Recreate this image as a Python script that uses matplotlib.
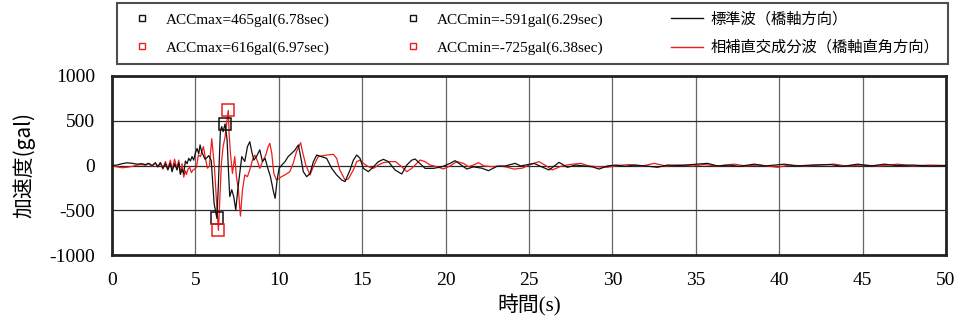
import matplotlib

matplotlib.use("Agg")
import matplotlib.pyplot as plt  # noqa: E402
from matplotlib.lines import Line2D  # noqa: E402

plt.rcParams["font.family"] = ["Liberation Serif", "Noto Sans CJK JP"]
plt.rcParams["axes.unicode_minus"] = False

# ---- data (time [s], acceleration [gal]) ----
t_std = [0.0, 0.3, 0.6, 0.9, 1.2, 1.5, 1.8, 2.0, 2.2, 2.4, 2.6, 2.75, 2.9, 3.05,
         3.2, 3.35, 3.5, 3.6, 3.75, 3.9, 4.0, 4.1, 4.2, 4.3, 4.4, 4.5, 4.6, 4.7,
         4.8, 4.9, 5.0, 5.1, 5.2, 5.28, 5.38, 5.48, 5.58, 5.7, 5.8, 5.95, 6.12,
         6.29, 6.38, 6.5, 6.58, 6.66, 6.78, 6.9, 6.98, 7.06, 7.18, 7.3, 7.42,
         7.54, 7.66, 7.78, 7.96, 8.12, 8.26, 8.38, 8.5, 8.66, 8.86, 9.02, 9.18,
         9.34, 9.5, 9.66, 9.78, 9.9, 10.02, 10.18, 10.36, 10.56, 10.76, 10.96,
         11.17, 11.3, 11.47, 11.67, 11.87, 12.07, 12.27, 12.57, 12.87, 13.17,
         13.47, 13.77, 13.97, 14.27, 14.47, 14.67, 14.87, 15.07, 15.37, 15.67,
         15.97, 16.27, 16.57, 16.97, 17.37, 17.67, 17.97, 18.17, 18.47, 18.77,
         19.27, 19.77, 20.27, 20.57, 20.97, 21.27, 21.67, 22.17, 22.57, 23.07,
         23.57, 24.17, 24.5, 24.9, 25.3, 25.7, 26.2, 26.8, 27.3, 27.8, 28.3,
         28.8, 29.2, 29.7, 30.2, 30.8, 31.3, 32.0, 32.7, 33.3, 34.0, 34.7, 35.7,
         36.3, 37.0, 37.6, 38.5, 39.2, 40.3, 41.0, 42.0, 43.1, 43.8, 44.7, 45.5,
         46.3, 47.0, 48.0, 49.0, 50.0]
a_std = [0, 5, 20, 30, 25, 15, 20, 10, 25, 0, 30, -15, 30, -30,
         20, -50, 25, -70, 20, -50, 35, -100, -40, -90, 50, 20, 80, 50,
         100, 60, 140, 190, 130, 230, 150, 110, 70, 90, 110, 56, -423,
         -591, -200, 397, 434, 378, 465, 285, -50, -348, -270, -350, -497,
         -270, -90, 99, 45, 210, 266, 155, 60, 99, 175, 45, 80,
         -30, -125, -275, -367, -160, -30, 5, 40, 99, 135, 170,
         229, 110, -69, -125, -90, 40, 117, 99, 80, -32,
         -106, -162, -180, -50, 60, 117, 80, -32, -69, -15,
         43, 69, 43, -50, -95, 5, 60, 73, 20, -32,
         -32, -15, 24, 54, 0, -39, -15, -30, -58, -10,
         -5, 24, -5, 10, 24, -10, -50, 35, -20, 5, -5,
         -15, -40, -5, 5, -10, 5, -5, -20, 5, 0, 10, 24,
         -5, 5, -10, 15, -5, 15, -5, 5, 10, -10, 15, -5,
         15, 0, 5, -5, 0]

t_orth = [0.0, 0.3, 0.6, 0.9, 1.2, 1.5, 1.8, 2.0, 2.2, 2.4, 2.6, 2.75, 2.9, 3.05,
          3.2, 3.35, 3.5, 3.6, 3.75, 3.9, 4.0, 4.1, 4.2, 4.3, 4.4, 4.46, 4.56,
          4.66, 4.76, 4.86, 4.96, 5.06, 5.18, 5.3, 5.48, 5.6, 5.72, 5.84, 5.98,
          6.14, 6.26, 6.38, 6.46, 6.56, 6.66, 6.78, 6.97, 7.02, 7.1, 7.22, 7.36,
          7.46, 7.58, 7.7, 7.82, 7.96, 8.12, 8.26, 8.42, 8.56, 8.7, 8.86, 9.02,
          9.22, 9.36, 9.46, 9.58, 9.7, 9.86, 10.02, 10.16, 10.36, 10.66, 10.86,
          11.06, 11.31, 11.42, 11.62, 11.87, 12.07, 12.36, 12.57, 12.87, 13.27,
          13.47, 13.66, 13.97, 14.17, 14.47, 14.67, 14.87, 15.07, 15.37, 15.67,
          15.97, 16.27, 16.67, 17.0, 17.37, 17.67, 17.97, 18.47, 18.77, 19.07,
          19.47, 19.87, 20.27, 20.67, 21.07, 21.37, 21.67, 21.97, 22.3, 22.77,
          23.3, 23.7, 24.1, 24.6, 25.0, 25.6, 26.0, 26.4, 26.9, 27.4, 28.1, 28.6,
          29.2, 29.7, 30.3, 31.0, 31.8, 32.5, 33.2, 34.0, 34.8, 35.5, 36.3, 37.3,
          38.0, 38.8, 39.9, 40.6, 41.5, 42.3, 43.3, 44.0, 45.0, 46.0, 47.1, 48.0,
          49.0, 50.0]
a_orth = [-5, -15, -25, -20, -10, 5, 10, 0, 20, -10, 30, -15, 35, -40,
          45, -30, 60, -50, 70, -40, 60, -90, 20, -130, -60, -100, -40,
          -20, -80, -50, -40, -20, 117, 100, 211, 80, -30, -7, 300,
          -13, -385, -725, -385, 25, 210, 322, 616, 360, 136, -88, 99,
          -125, -275, -565, -275, -105, -125, -50, 60, 117, 60, -32, 43,
          117, 210, 248, 136, -88, -162, -145, -125, -106, -69, 24,
          154, 255, 155, 5, -106, -13, 99, 106, 117, 125,
          80, -50, -162, -150, -50, 43, 60, 24, -13, -32,
          5, 32, 43, 43, -13, -69, -32, 61, 43, 5,
          -13, -39, -5, 43, 24, -13, 5, 32, -5, -13,
          -5, -20, -40, -30, 5, 43, 0, -50, -10, 10, 24, -5,
          -15, -20, 0, 10, -5, 24, -5, 5, -5, 10, -5, 15,
          -5, 5, -20, 5, -5, 5, 15, -5, 5, -5, 15, -5,
          5, 0]

peak_t = [6.78, 6.29, 6.97, 6.38]
peak_a = [465, -591, 616, -725]
peak_lbl = ["ACCmax=465gal(6.78sec)", "ACCmin=-591gal(6.29sec)",
            "ACCmax=616gal(6.97sec)", "ACCmin=-725gal(6.38sec)"]
series_lbl = ["標準波（橋軸方向）", "相補直交成分波（橋軸直角方向）"]

BLACK = "#111111"
RED = "#ee1c1c"

fig = plt.figure(figsize=(9.61, 3.27), dpi=100)
ax = fig.add_axes([112 / 961, 1 - 255 / 327, 834 / 961, 179 / 327])

ax.plot(t_std, a_std, color=BLACK, lw=0.9, zorder=3)
ax.plot(t_orth, a_orth, color=RED, lw=0.9, zorder=2)
pk_colors = [BLACK, BLACK, RED, RED]
for tt, aa, c in zip(peak_t, peak_a, pk_colors):
    ax.plot(tt, aa, ls="none", marker="s", ms=8, mfc="none", mec=c, mew=1.1, zorder=4)

ax.set_xlim(0, 50)
ax.set_ylim(-1000, 1000)
ax.set_xticks(range(0, 51, 5))
ax.set_yticks([-1000, -500, 0, 500, 1000])
ax.xaxis.grid(True, color="#666666", lw=0.9)
ax.yaxis.grid(True, color="#2a2a2a", lw=0.9)
ax.tick_params(length=0, labelsize=14, pad=12)
for sp in ax.spines.values():
    sp.set_linewidth(2)
    sp.set_color("#222222")

ax.set_xlabel("時間(s)", fontsize=15, labelpad=4)
ax.set_ylabel("加速度(gal)", fontsize=15, family="Noto Sans CJK JP", labelpad=10)

handles = [
    Line2D([], [], ls="none", marker="s", ms=5, mfc="none", mec=BLACK, mew=1),
    Line2D([], [], ls="none", marker="s", ms=5, mfc="none", mec=RED, mew=1),
    Line2D([], [], ls="none", marker="s", ms=5, mfc="none", mec=BLACK, mew=1),
    Line2D([], [], ls="none", marker="s", ms=5, mfc="none", mec=RED, mew=1),
    Line2D([], [], color=BLACK, lw=1),
    Line2D([], [], color=RED, lw=1),
]
labels = [peak_lbl[0], peak_lbl[2], peak_lbl[1], peak_lbl[3], series_lbl[0], series_lbl[1]]
leg = fig.legend(handles, labels, ncol=3,
                 bbox_to_anchor=(117 / 961, 1 - 3 / 327),
                 loc="upper left", fontsize=11, frameon=True, fancybox=False,
                 handlelength=2.1, handletextpad=0.5, borderaxespad=0,
                 columnspacing=4.4, labelspacing=0.9, borderpad=0.6)
leg.get_frame().set_edgecolor("#222222")
leg.get_frame().set_linewidth(1.5)

fig.savefig("out.png", dpi=100)
